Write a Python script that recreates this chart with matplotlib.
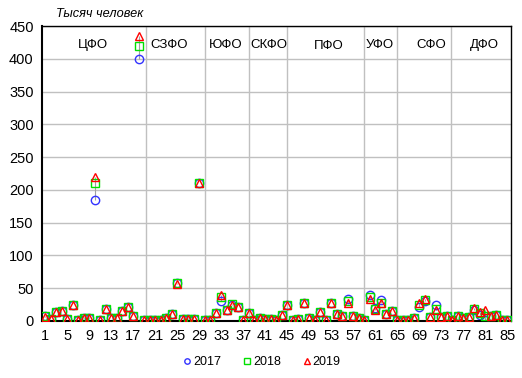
import numpy as np
import matplotlib
matplotlib.use("Agg")
import matplotlib.pyplot as plt

plt.rcParams['font.family'] = ['Liberation Sans', 'DejaVu Sans']

#### values, thousand people, regions 1..85
regions = np.arange(1, 86)

v2017 = [7, 3, 13, 16, 3, 25, 2, 4, 5, 185, 2, 19, 4, 4, 15, 21, 7, 400,
         2, 2, 2, 1, 5, 11, 58, 3, 3, 3, 210,
         2, 1, 12, 30, 17, 25, 22, 2,
         12, 2, 5, 3, 3, 1, 9,
         24, 1, 3, 27, 5, 1, 13, 1, 28, 10, 7, 34, 7, 4,
         1, 40, 20, 32, 11, 16,
         1, 1, 1, 4, 22, 31, 6, 24, 6, 7,
         1, 7, 4, 6, 17, 9, 2, 7, 9, 1, 1]

v2018 = [7, 3, 13, 16, 3, 25, 2, 4, 5, 210, 2, 19, 4, 4, 15, 21, 7, 420,
         2, 2, 2, 1, 5, 11, 58, 3, 3, 3, 210,
         2, 1, 12, 37, 17, 26, 22, 2,
         12, 2, 5, 3, 3, 1, 9,
         25, 1, 3, 27, 5, 1, 13, 1, 28, 10, 7, 30, 7, 4,
         1, 36, 18, 28, 11, 16,
         1, 1, 1, 4, 25, 32, 6, 19, 6, 7,
         1, 8, 4, 6, 19, 12, 8, 7, 9, 1, 1]

v2019 = [6, 3, 13, 16, 3, 25, 2, 4, 5, 220, 2, 19, 4, 4, 15, 21, 7, 435,
         2, 2, 2, 1, 5, 11, 56, 3, 3, 3, 210,
         2, 1, 12, 40, 17, 24, 22, 2,
         12, 2, 5, 3, 3, 1, 9,
         25, 1, 3, 27, 5, 1, 13, 1, 28, 10, 7, 27, 7, 4,
         1, 33, 17, 27, 10, 16,
         1, 1, 1, 4, 28, 33, 6, 17, 6, 7,
         1, 8, 4, 6, 20, 14, 17, 7, 9, 1, 1]

districts = ['ЦФО', 'СЗФО', 'ЮФО', 'СКФО', 'ПФО', 'УФО', 'СФО', 'ДФО']

#### layout (data coordinates)
district_sep = [19.3, 30.1, 38.0, 44.9, 59.0, 65.0, 74.7]
district_x = [9.7, 23.5, 33.8, 41.7, 52.5, 61.8, 71.2, 80.9]
district_y = [421, 421, 421, 421, 419, 421, 421, 421]

fig = plt.figure(figsize=(5.22, 3.78), dpi=100)
ax = fig.add_axes([0.0805, 0.1508, 0.8985, 0.7802])

ax.set_xlim(0.45, 85.7)
ax.set_ylim(0, 450)

for y in range(50, 451, 50):
    ax.axhline(y, color='#c0c0c0', lw=1, zorder=0)
for x in district_sep:
    ax.axvline(x, color='#c0c0c0', lw=1, zorder=0)

# high-low lines
allv = np.array([v2017, v2018, v2019])
ax.vlines(regions, allv.min(axis=0), allv.max(axis=0), color='#a0a0a0', lw=0.8, zorder=1)

ax.plot(regions, v2017, 'o', ms=6, mfc='none', mec='#3333ff', mew=1, label='2017', zorder=2)
ax.plot(regions, v2018, 's', ms=5.8, mfc='none', mec='#00e000', mew=1, label='2018', zorder=3)
ax.plot(regions, v2019, '^', ms=6.3, mfc='none', mec='#ff0000', mew=1, label='2019', zorder=4)

for name, x, y in zip(districts, district_x, district_y):
    ax.text(x, y, name, ha='center', va='center', fontsize=9.5)

ax.set_xticks(np.arange(1, 86, 4))
ax.set_yticks(np.arange(0, 451, 50))
ax.tick_params(length=0, labelsize=10.5, pad=6)

for s in ax.spines.values():
    s.set_color('black')
    s.set_linewidth(1)
ax.spines['bottom'].set_linewidth(1.5)
ax.spines['left'].set_linewidth(1.5)

fig.text(0.108, 0.962, 'Тысяч человек', fontsize=9.2, style='italic', ha='left', va='center')

fig.legend(loc='center', bbox_to_anchor=(0.5, 0.042), ncol=3, frameon=False,
           fontsize=9, markerscale=0.65, handletextpad=0.05, columnspacing=1.6,
           handlelength=0.9)

fig.savefig('out.png', dpi=100)
